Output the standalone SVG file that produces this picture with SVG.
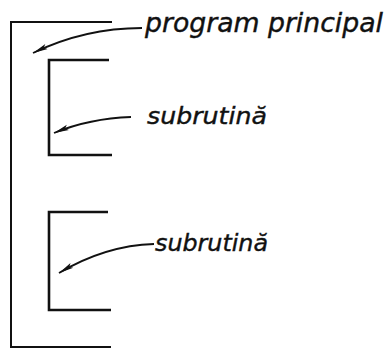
<svg xmlns="http://www.w3.org/2000/svg" width="389" height="349" viewBox="0 0 389 349">
<defs>
<style>
.br{fill:none;stroke:#111;stroke-width:2.6;stroke-linejoin:miter;stroke-linecap:butt}
.ob{fill:none;stroke:#111;stroke-width:2}
.ld{fill:none;stroke:#111;stroke-width:1.8}
.lb{font-family:"DejaVu Sans","Liberation Sans",sans-serif;font-style:oblique;fill:#111;stroke:#111;stroke-width:0.4}
</style>
<marker id="ah" markerWidth="16" markerHeight="8" refX="15" refY="4" orient="auto" markerUnits="userSpaceOnUse">
<path d="M0,1.2 L15,4 L0,6.8 L3,4 Z" fill="#111"/>
</marker>
</defs>
<rect width="389" height="349" fill="#fff"/>
<g id="program-principal">
<path class="ob" d="M112,22 H11 V347 H111"/>
<text class="lb" x="145" y="32" font-size="26" textLength="238" lengthAdjust="spacingAndGlyphs">program principal</text>
</g>
<g id="subrutina-1">
<path class="br" d="M109,60 H49 V155 H112"/>
<text class="lb" x="147" y="124" font-size="23" textLength="120" lengthAdjust="spacingAndGlyphs">subrutină</text>
</g>
<g id="subrutina-2">
<path class="br" d="M108,212 H49 V310 H111"/>
<text class="lb" x="155" y="251" font-size="23" stroke-width="0.9" textLength="113" lengthAdjust="spacingAndGlyphs">subrutină</text>
</g>
<g id="connectors">
<path class="ld" marker-end="url(#ah)" d="M142,28 C100,28 62,39 33,53"/>
<path class="ld" marker-end="url(#ah)" d="M131,117 C100,118 76,124 54,133"/>
<path class="ld" marker-end="url(#ah)" d="M154,244 C120,245 86,257 59,273"/>
</g>
</svg>
